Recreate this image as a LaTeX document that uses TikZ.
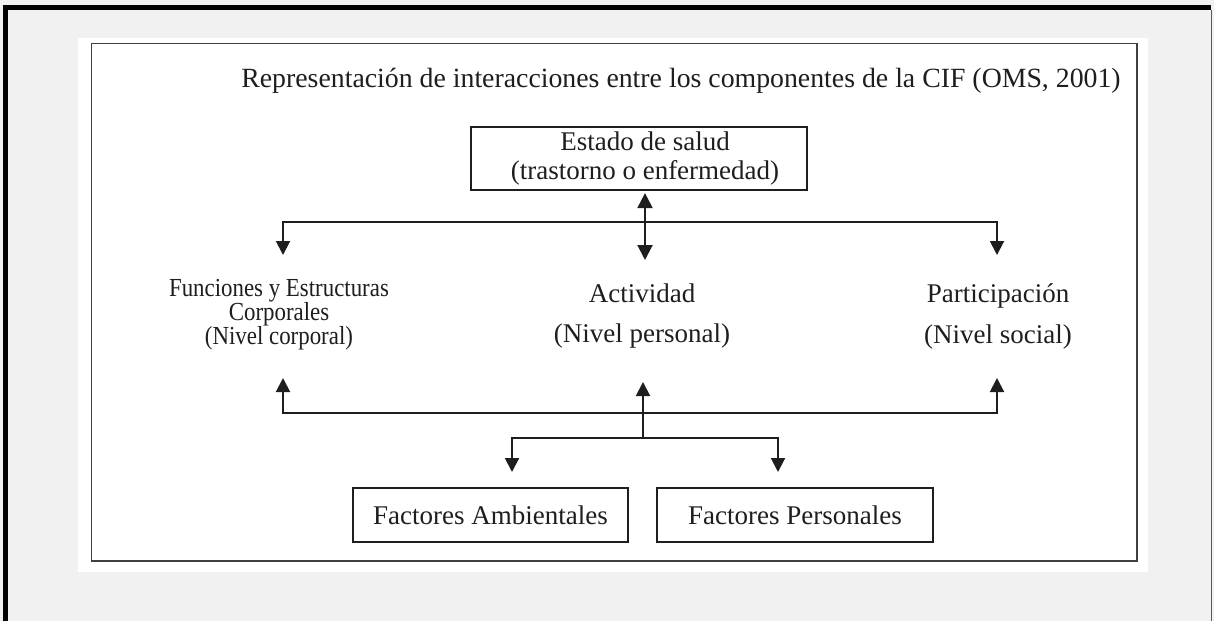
\documentclass[tikz,border=0pt]{standalone}
\usepackage{fontspec}
\setmainfont{Liberation Serif}
\newfontfamily\condserif[FakeStretch=0.88]{Liberation Serif}
\usetikzlibrary{arrows.meta}
\definecolor{ink}{HTML}{1E1E1E}
\definecolor{bgc}{HTML}{F1F1F1}
\begin{document}
\begin{tikzpicture}[x=0.5pt,y=-0.5pt,
  ln/.style={draw=ink, line width=1pt},
  arr/.style={ln, -{Triangle[width=7pt,length=7pt]}},
  dbl/.style={ln, {Triangle[width=7.5pt,length=7.5pt]}-{Triangle[width=7.5pt,length=7.5pt]}},
  boxn/.style={draw=ink, line width=1.1pt, inner sep=0pt, align=center, text=ink, font=\fontsize{13.5}{14.5}\selectfont},
  lbl/.style={anchor=base, inner sep=0pt, text=ink, font=\fontsize{13.5}{16}\selectfont},
  lbls/.style={lbl, font=\condserif\fontsize{13}{14}\selectfont}]
\fill[bgc] (0,0) rectangle (1214,621);
\useasboundingbox (0,0) rectangle (1214,621);
\fill[black] (3,5) rectangle (1211,10);
\fill[black] (3,5) rectangle (8,621);
\draw[black!65, line width=0.6pt] (1211.5,10) -- (1211.5,621);
\fill[white] (78,38) rectangle (1148,572);
\draw[ink!85, line width=0.8pt] (91.5,43.5) rectangle (1137,561);

\node[lbl, font=\fontsize{13.9}{17}\selectfont] (title) at (681,87) {Representación de interacciones entre los componentes de la CIF (OMS, 2001)};

\node[boxn, minimum width=168pt, minimum height=31.5pt] (salud) at (639,158.5) {\hspace*{6pt}Estado de salud\\\hspace*{6pt}(trastorno o enfermedad)};

\node[lbls] (fun1) at (279,296) {Funciones y Estructuras};
\node[lbls] (fun2) at (279,320) {Corporales};
\node[lbls] (fun3) at (279,344) {(Nivel corporal)};
\node[lbl] (act1) at (642,302) {Actividad};
\node[lbl] (act2) at (642,342) {(Nivel personal)};
\node[lbl] (par1) at (998,302) {Participación};
\node[lbl] (par2) at (998,343) {(Nivel social)};

\node[boxn, minimum width=137.5pt, minimum height=27pt] (fa) at (490.5,515) {Factores Ambientales};
\node[boxn, minimum width=138pt, minimum height=27pt] (fp) at (795,515) {Factores Personales};

\coordinate (hub1) at (645,222);
\coordinate (actTop) at (645,260);
\coordinate (funTop) at (283,255);
\coordinate (parTop) at (997,255);
\coordinate (hub2) at (643,413);
\coordinate (hub3) at (643,438);
\coordinate (funBot) at (283,378);
\coordinate (parBot) at (997,378);
\coordinate (actBot) at (643,382);
\coordinate (faTop) at (512,472);
\coordinate (fpTop) at (778,472);

\draw[dbl, shorten <=1pt] (salud.south -| hub1) -- (actTop);
\draw[arr] (hub1) -| (funTop);
\draw[arr] (hub1) -| (parTop);
\draw[arr] (hub2) -| (funBot);
\draw[arr] (hub2) -| (parBot);
\draw[arr] (hub3) -- (actBot);
\draw[arr] (hub3) -| (faTop);
\draw[arr] (hub3) -| (fpTop);
\end{tikzpicture}
\end{document}
